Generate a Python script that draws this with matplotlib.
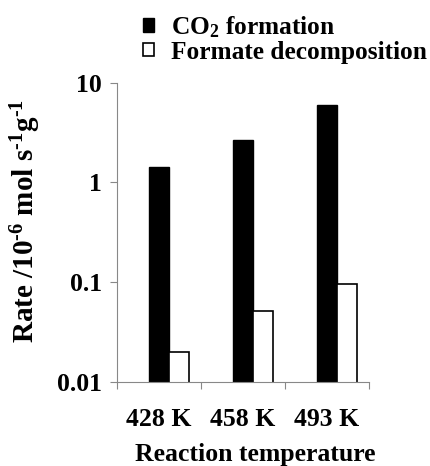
import matplotlib
matplotlib.use("Agg")
import matplotlib.pyplot as plt
import numpy as np

categories = ["428 K", "458 K", "493 K"]
co2_formation = [1.41, 2.65, 5.98]
formate_decomposition = [0.020, 0.051, 0.096]

plt.rcParams['font.family'] = ['Liberation Serif', 'DejaVu Serif']
plt.rcParams['font.weight'] = 'bold'
plt.rcParams['mathtext.fontset'] = 'custom'
plt.rcParams['mathtext.rm'] = 'Liberation Serif:bold'
plt.rcParams['mathtext.it'] = 'Liberation Serif:bold'
plt.rcParams['mathtext.bf'] = 'Liberation Serif:bold'
plt.rcParams['mathtext.default'] = 'rm'

W, H = 430, 466
FS = 18.5
fig = plt.figure(figsize=(W/100, H/100), dpi=100)
ax = fig.add_axes([117/W, 1-381.7/H, (369-117)/W, (381.7-82.7)/H])

x = np.arange(len(categories))
bw = 0.235
ax.bar(x, co2_formation, width=bw, color='black', edgecolor='black', linewidth=1.0,
       label='CO$_2$ formation')
ax.bar(x + bw, formate_decomposition, width=bw, color='white', edgecolor='black',
       linewidth=1.2, label='Formate decomposition')

ax.set_yscale('log')
ax.set_ylim(0.01, 10)
ax.set_xlim(-0.5, 2.5)
ax.set_yticks([0.01, 0.1, 1, 10])
ax.set_yticklabels(['0.01', '0.1', '1', '10'])
ax.yaxis.set_minor_locator(matplotlib.ticker.NullLocator())
ax.set_xticks([-0.5, 0.5, 1.5, 2.5])
ax.set_xticklabels([])
ax.set_xticks(x, minor=True)
ax.set_xticklabels(categories, minor=True)
ax.tick_params(axis='x', which='minor', length=0, labelsize=FS, pad=19)
ax.tick_params(axis='x', which='major', length=5, color='#888888', width=0.8)
ax.tick_params(axis='y', which='major', length=5, color='#888888', width=0.8, labelsize=FS, pad=6)

for s in ['top', 'right']:
    ax.spines[s].set_visible(False)
for s in ['left', 'bottom']:
    ax.spines[s].set_color('#888888')
    ax.spines[s].set_linewidth(0.8)

ax.set_ylabel(r'Rate /10$^{\text{-6}}$ mol s$^{\text{-1}}$g$^{\text{-1}}$', fontsize=21, fontweight='bold')
ax.yaxis.set_label_coords(-(117-26)/252, (381.7-221)/299)
ax.yaxis.label.set_va('center')
ax.set_xlabel('Reaction temperature', fontsize=FS, fontweight='bold')
ax.xaxis.set_label_coords((255-117)/252, -(455-381.7)/299)
ax.xaxis.label.set_va('center')

leg = fig.legend(loc='upper left', bbox_to_anchor=(143/W, 1-14/H), frameon=False,
                 fontsize=18.3, handlelength=0.45, handleheight=0.45, handletextpad=0.65,
                 labelspacing=0.04, borderaxespad=0, borderpad=0)

fig.savefig('out.png', dpi=100)
